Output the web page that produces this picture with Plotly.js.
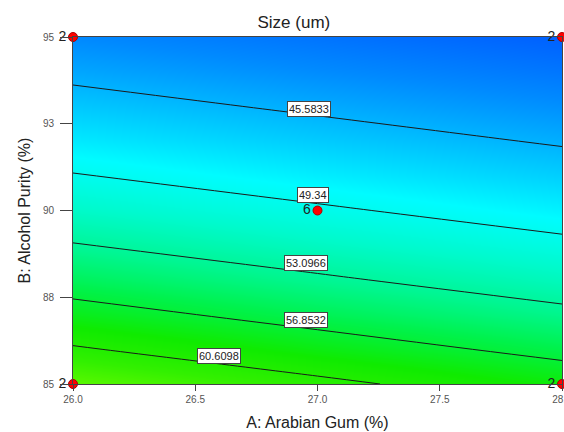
<!DOCTYPE html>
<html>
<head>
<meta charset="utf-8">
<script src="https://cdn.plot.ly/plotly-3.0.1.min.js"></script>
<style>
html,body{margin:0;padding:0;background:#fff;}
#chart{width:564px;height:432px;}
</style>
</head>
<body>
<div id="chart"></div>
<script>
// Factor A: Arabian Gum (%) grid
const gumValues = [26, 27, 28];
// Factor B: Alcohol Purity (%) grid
const purityValues = [85, 86, 87, 88, 89, 90, 91, 92, 93, 94, 95];
// Predicted Size (um), one row per purity level, columns follow gumValues
const sizeAtGum26 = [64.34, 60.92, 58.00, 55.46, 53.23, 51.24, 49.47, 47.86, 46.41, 45.07, 43.85];
const sizeAtGum27 = [61.29, 58.31, 55.73, 53.47, 51.46, 49.66, 48.04, 46.57, 45.22, 43.99, 42.85];
const sizeAtGum28 = [58.63, 56.01, 53.72, 51.68, 49.86, 48.22, 46.73, 45.37, 44.12, 42.97, 41.91];

// Contour levels
const contourLevels = [45.5833, 49.34, 53.0966, 56.8532, 60.6098];
const levelLabels = ['45.5833', '49.34', '53.0966', '56.8532', '60.6098'];
const labelGum = [26.965, 26.98, 26.953, 26.953, 26.597];
const labelPurity = [92.93, 90.45, 88.49, 86.84, 85.81];

// Design points
const designGum = [26, 26, 28, 28, 27];
const designPurity = [85, 95, 85, 95, 90];
const designReplicates = ['2', '2', '2', '2', '6'];

// Tick labels
const xTickVals = [26, 26.5, 27, 27.5, 28];
const xTickText = ['26.0', '26.5', '27.0', '27.5', '28.0'];
const yTickVals = [85, 87.5, 90, 92.5, 95];
const yTickText = ['85', '88', '90', '93', '95'];

const z = purityValues.map((b, i) => [sizeAtGum26[i], sizeAtGum27[i], sizeAtGum28[i]]);

const zmin = 41.9, zmax = 64.35;
const colorscale = [
  [0.000, 'rgb(0,96,255)'],
  [0.089, 'rgb(0,138,255)'],
  [0.183, 'rgb(0,190,255)'],
  [0.298, 'rgb(0,252,255)'],
  [0.405, 'rgb(0,250,205)'],
  [0.517, 'rgb(0,246,145)'],
  [0.628, 'rgb(0,242,75)'],
  [0.762, 'rgb(15,235,0)'],
  [0.895, 'rgb(50,240,0)'],
  [1.000, 'rgb(90,248,0)']
];

const step = (contourLevels[contourLevels.length - 1] - contourLevels[0]) / (contourLevels.length - 1);

const contour = {
  type: 'contour',
  x: gumValues,
  y: purityValues,
  z: z,
  zmin: zmin, zmax: zmax,
  colorscale: colorscale,
  showscale: false,
  contours: {
    coloring: 'heatmap',
    start: contourLevels[0],
    end: contourLevels[contourLevels.length - 1] + step * 0.01,
    size: step,
    showlabels: false
  },
  line: {color: '#1a1a1a', width: 1, smoothing: 1},
  hoverinfo: 'skip'
};

const points = {
  type: 'scatter',
  mode: 'markers+text',
  x: designGum,
  y: designPurity,
  text: designReplicates,
  textposition: 'middle left',
  textfont: {family: 'Liberation Sans, Arial, sans-serif', size: 14, color: '#222'},
  marker: {color: '#ff0000', size: 9, line: {color: '#aa0000', width: 1}},
  cliponaxis: false,
  hoverinfo: 'skip'
};

const annotations = levelLabels.map((t, i) => ({
  x: labelGum[i], y: labelPurity[i], xref: 'x', yref: 'y',
  text: t, showarrow: false,
  font: {family: 'Liberation Sans, Arial, sans-serif', size: 11, color: '#222'},
  bgcolor: '#ffffff', bordercolor: '#444', borderwidth: 1, borderpad: 1
}));

const layout = {
  width: 564, height: 432,
  margin: {l: 73, r: 2, t: 37, b: 48, pad: 0},
  paper_bgcolor: '#fff',
  plot_bgcolor: '#fff',
  showlegend: false,
  font: {family: 'Liberation Sans, Arial, sans-serif', color: '#222'},
  title: {
    text: 'Size (um)',
    font: {family: 'Liberation Sans, Arial, sans-serif', size: 17, color: '#222'},
    xref: 'container', yref: 'container',
    x: 0.521, xanchor: 'center',
    y: 0.949, yanchor: 'middle'
  },
  xaxis: {
    range: [26, 28],
    tickvals: xTickVals, ticktext: xTickText,
    ticks: 'outside', ticklen: 6, tickcolor: '#444',
    tickfont: {size: 10, color: '#555'},
    ticklabeloverflow: 'allow',
    showline: true, mirror: true, linecolor: '#444', linewidth: 1,
    showgrid: false, zeroline: false,
    title: {text: 'A: Arabian Gum (%)', font: {size: 16, color: '#222'}, standoff: 12},
    automargin: false
  },
  yaxis: {
    range: [85, 95],
    tickvals: yTickVals, ticktext: yTickText,
    ticks: 'outside', ticklen: 12, tickcolor: '#444',
    tickfont: {size: 10, color: '#555'},
    ticklabelstandoff: 4,
    showline: true, mirror: true, linecolor: '#444', linewidth: 1,
    showgrid: false, zeroline: false,
    title: {text: 'B: Alcohol Purity (%)', font: {size: 16, color: '#222'}, standoff: 8},
    automargin: false
  },
  annotations: annotations
};

Plotly.newPlot('chart', [contour, points], layout, {displayModeBar: false, staticPlot: true});
</script>
</body>
</html>
